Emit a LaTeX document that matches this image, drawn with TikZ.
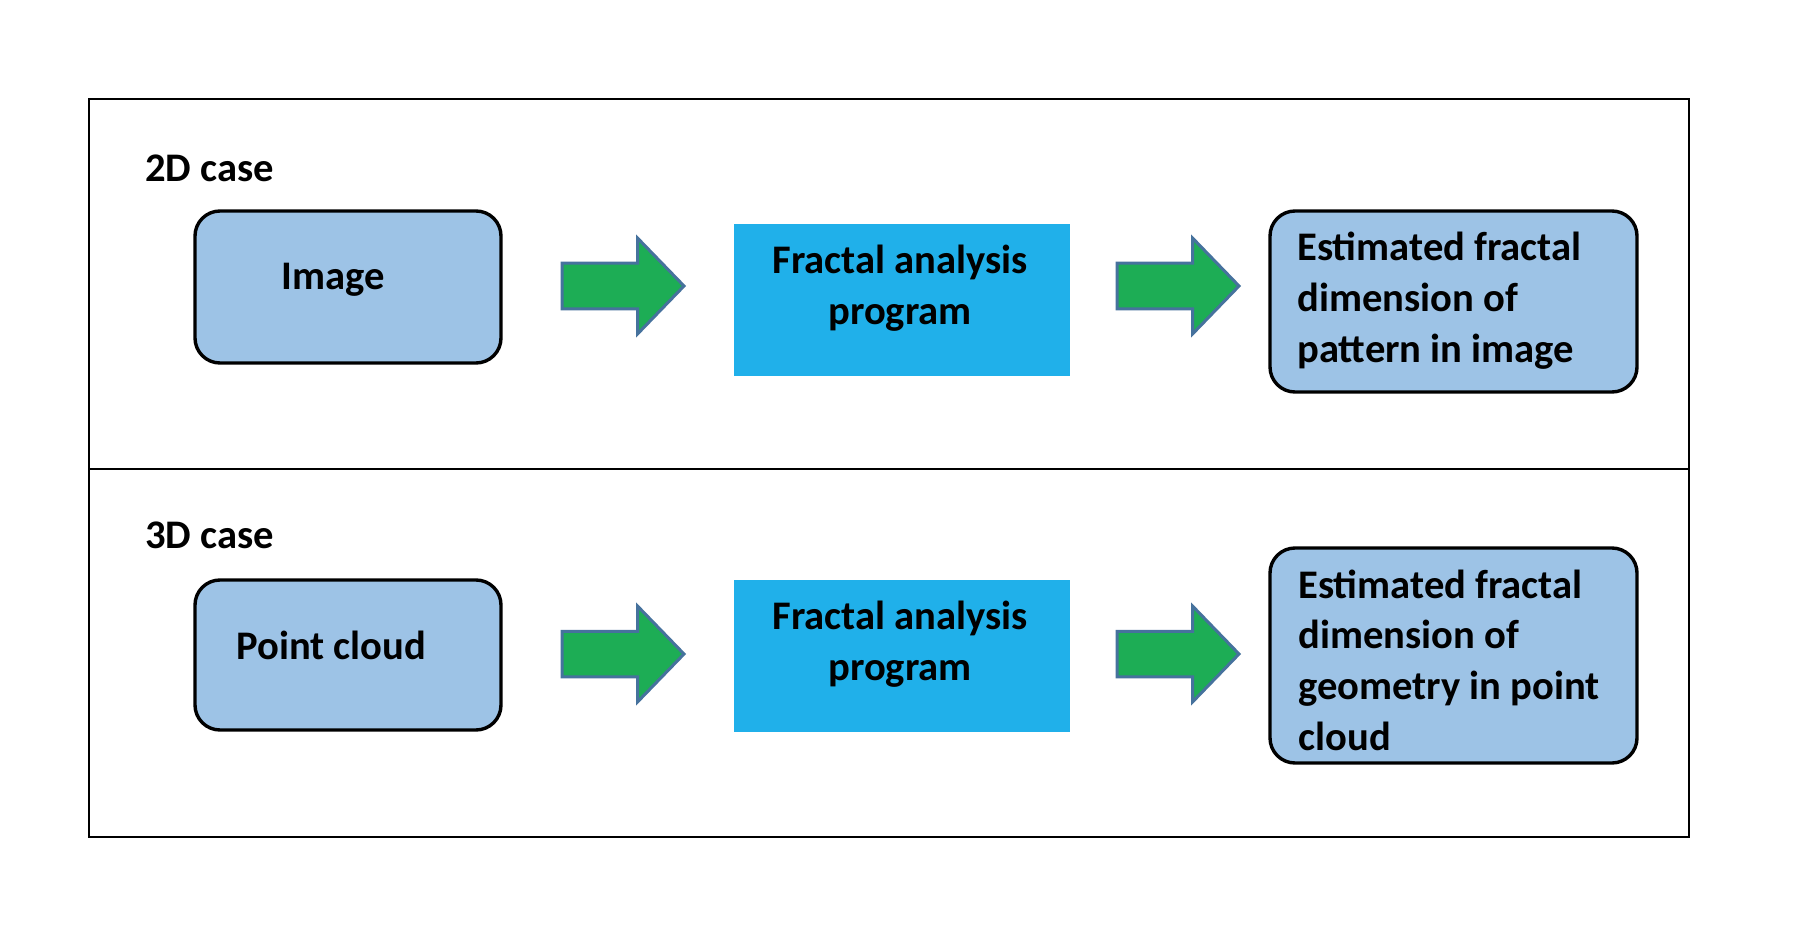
\documentclass[tikz,border=0pt]{standalone}
\usepackage{fontspec}
\setmainfont{Carlito}
\definecolor{boxblue}{HTML}{9DC3E6}
\definecolor{progblue}{HTML}{20B0EA}
\definecolor{arrowgreen}{HTML}{1DAD55}
\definecolor{arrowedge}{HTML}{46729D}
\tikzset{
  x=0.5pt, y=-0.5pt,
  frameline/.style={draw=black, line width=1pt},
  rbox/.style={draw=black, line width=1.7pt, fill=boxblue, rounded corners=12.5pt, inner sep=0pt},
  progbox/.style={fill=progblue, inner sep=0pt, minimum width=168pt, minimum height=76pt},
  lbl/.style={font=\fontsize{20.3}{25.3}\selectfont\bfseries, inner sep=0pt, anchor=base west, align=left},
  ctxt/.style={font=\fontsize{20.3}{25.3}\selectfont\bfseries, inner sep=0pt, anchor=base, align=center},
  blockarrow/.style={fill=arrowgreen, draw=arrowedge, line width=1.5pt, line join=miter},
}
\newcommand{\blockarr}[2]{%
  \draw[blockarrow, shift={(#1,#2)}] (0,-22.75) -- (75.5,-22.75) -- (75.5,-48) -- (122,0) -- (75.5,48) -- (75.5,22.75) -- (0,22.75) -- cycle;}
\begin{document}
\begin{tikzpicture}
\useasboundingbox (0,0) rectangle (1814,936);
% frame
\draw[frameline] (89,99) rectangle (1689,837);
\draw[frameline] (89,469) -- (1689,469);

% 2D case
\node[lbl] (l2d) at (145,182) {2D case};
\node[rbox, minimum width=153pt, minimum height=76pt] (img) at (348,287) {};
\node[lbl] (imgtxt) at (281,290) {Image};
\blockarr{562}{286}
\node[progbox] (prog1) at (902,300) {};
\node[ctxt] (prog1txt) at (900,324) {Fractal analysis\\program};
\blockarr{1117}{286}
\node[rbox, minimum width=183.5pt, minimum height=90.5pt] (est1) at (1453.5,301.5) {};
\node[lbl] (est1txt) at (1297,362) {Estimated fractal\\dimension of\\pattern in image};

% 3D case
\node[lbl] (l3d) at (145,548) {3D case};
\node[rbox, minimum width=153pt, minimum height=75pt] (pc) at (348,655) {};
\node[lbl] (pctxt) at (236,659) {Point cloud};
\blockarr{562}{654}
\node[progbox] (prog2) at (902,656) {};
\node[ctxt] (prog2txt) at (900,680) {Fractal analysis\\program};
\blockarr{1117}{654}
\node[rbox, minimum width=183.5pt, minimum height=107.5pt] (est2) at (1453.5,655.5) {};
\node[lbl] (est2txt) at (1298,750) {Estimated fractal\\dimension of\\geometry in point\\cloud};
\end{tikzpicture}
\end{document}
